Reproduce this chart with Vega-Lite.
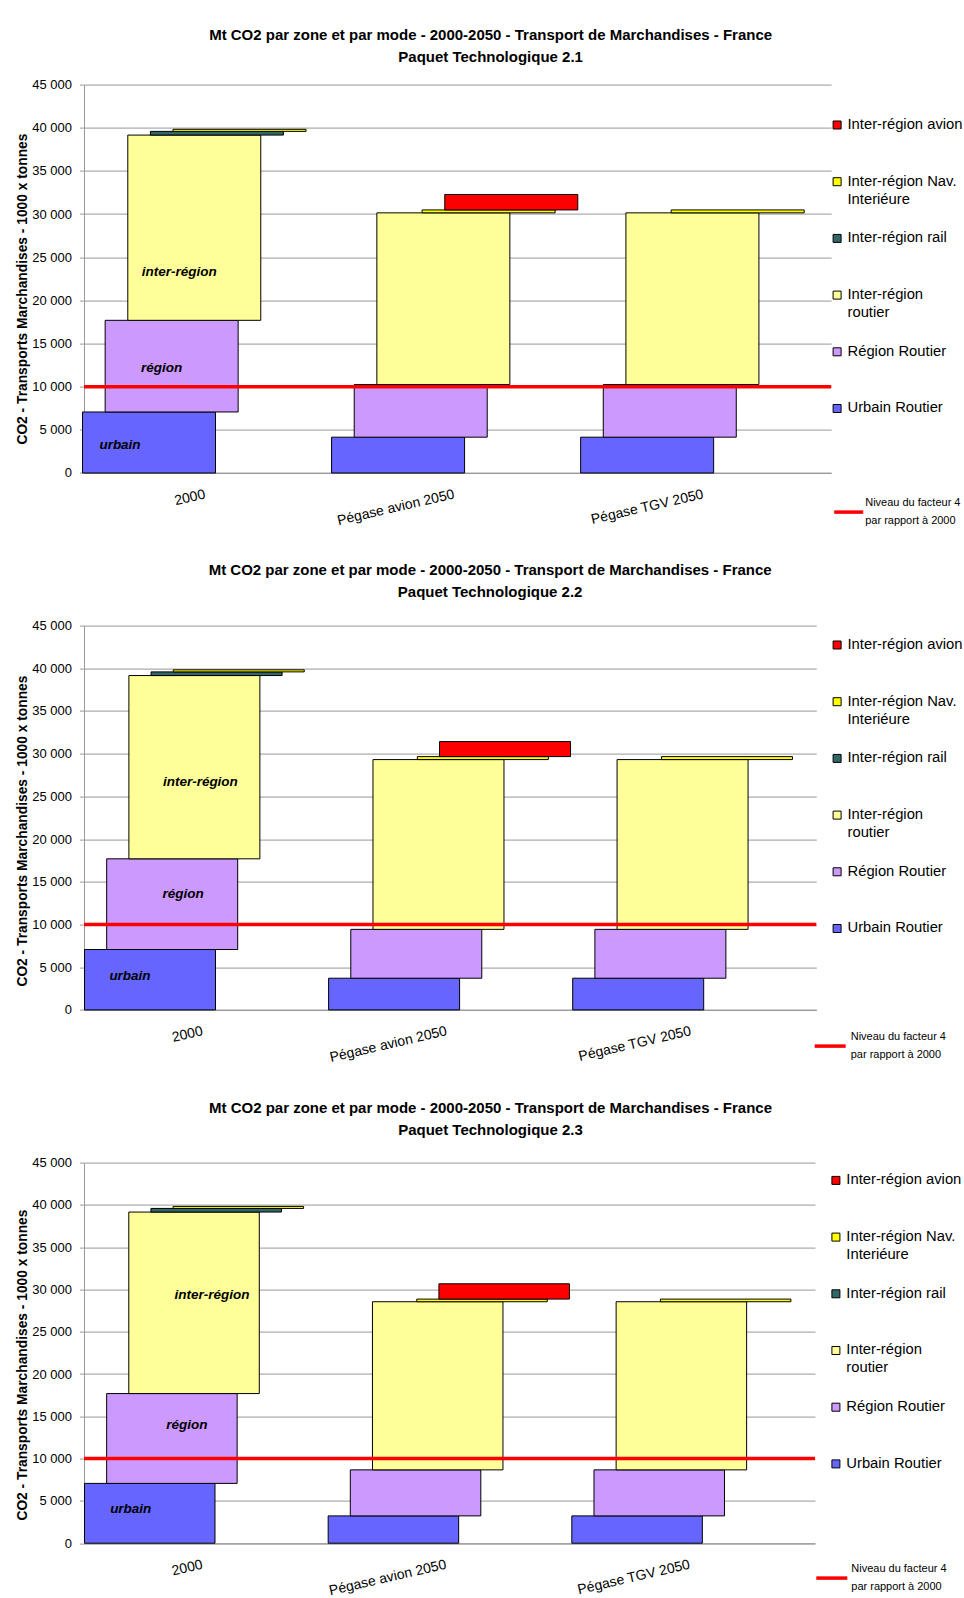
{
  "$schema": "https://vega.github.io/schema/vega-lite/v6.json",
  "background": "white",
  "padding": {"left": 15, "top": 27.6, "right": 0, "bottom": 0},
  "spacing": 152,
  "bounds": "flush",
  "datasets": {
    "barres": [
      {"panneau": "2.1", "scenario": "2000", "serie": "Urbain Routier", "ordre": 1, "valeur": 7070},
      {"panneau": "2.1", "scenario": "2000", "serie": "Région Routier", "ordre": 2, "valeur": 10620},
      {"panneau": "2.1", "scenario": "2000", "serie": "Inter-région routier", "ordre": 3, "valeur": 21460},
      {"panneau": "2.1", "scenario": "2000", "serie": "Inter-région rail", "ordre": 4, "valeur": 430},
      {"panneau": "2.1", "scenario": "2000", "serie": "Inter-région Nav. Interiéure", "ordre": 5, "valeur": 240},
      {"panneau": "2.1", "scenario": "Pégase avion 2050", "serie": "Urbain Routier", "ordre": 1, "valeur": 4150},
      {"panneau": "2.1", "scenario": "Pégase avion 2050", "serie": "Région Routier", "ordre": 2, "valeur": 6100},
      {"panneau": "2.1", "scenario": "Pégase avion 2050", "serie": "Inter-région routier", "ordre": 3, "valeur": 19890},
      {"panneau": "2.1", "scenario": "Pégase avion 2050", "serie": "Inter-région Nav. Interiéure", "ordre": 5, "valeur": 340},
      {"panneau": "2.1", "scenario": "Pégase avion 2050", "serie": "Inter-région avion", "ordre": 6, "valeur": 1790},
      {"panneau": "2.1", "scenario": "Pégase TGV 2050", "serie": "Urbain Routier", "ordre": 1, "valeur": 4150},
      {"panneau": "2.1", "scenario": "Pégase TGV 2050", "serie": "Région Routier", "ordre": 2, "valeur": 6100},
      {"panneau": "2.1", "scenario": "Pégase TGV 2050", "serie": "Inter-région routier", "ordre": 3, "valeur": 19890},
      {"panneau": "2.1", "scenario": "Pégase TGV 2050", "serie": "Inter-région Nav. Interiéure", "ordre": 5, "valeur": 340},
      {"panneau": "2.2", "scenario": "2000", "serie": "Urbain Routier", "ordre": 1, "valeur": 7070},
      {"panneau": "2.2", "scenario": "2000", "serie": "Région Routier", "ordre": 2, "valeur": 10620},
      {"panneau": "2.2", "scenario": "2000", "serie": "Inter-région routier", "ordre": 3, "valeur": 21460},
      {"panneau": "2.2", "scenario": "2000", "serie": "Inter-région rail", "ordre": 4, "valeur": 430},
      {"panneau": "2.2", "scenario": "2000", "serie": "Inter-région Nav. Interiéure", "ordre": 5, "valeur": 240},
      {"panneau": "2.2", "scenario": "Pégase avion 2050", "serie": "Urbain Routier", "ordre": 1, "valeur": 3710},
      {"panneau": "2.2", "scenario": "Pégase avion 2050", "serie": "Région Routier", "ordre": 2, "valeur": 5720},
      {"panneau": "2.2", "scenario": "Pégase avion 2050", "serie": "Inter-région routier", "ordre": 3, "valeur": 19880},
      {"panneau": "2.2", "scenario": "Pégase avion 2050", "serie": "Inter-région Nav. Interiéure", "ordre": 5, "valeur": 350},
      {"panneau": "2.2", "scenario": "Pégase avion 2050", "serie": "Inter-région avion", "ordre": 6, "valeur": 1760},
      {"panneau": "2.2", "scenario": "Pégase TGV 2050", "serie": "Urbain Routier", "ordre": 1, "valeur": 3710},
      {"panneau": "2.2", "scenario": "Pégase TGV 2050", "serie": "Région Routier", "ordre": 2, "valeur": 5720},
      {"panneau": "2.2", "scenario": "Pégase TGV 2050", "serie": "Inter-région routier", "ordre": 3, "valeur": 19880},
      {"panneau": "2.2", "scenario": "Pégase TGV 2050", "serie": "Inter-région Nav. Interiéure", "ordre": 5, "valeur": 350},
      {"panneau": "2.3", "scenario": "2000", "serie": "Urbain Routier", "ordre": 1, "valeur": 7070},
      {"panneau": "2.3", "scenario": "2000", "serie": "Région Routier", "ordre": 2, "valeur": 10620},
      {"panneau": "2.3", "scenario": "2000", "serie": "Inter-région routier", "ordre": 3, "valeur": 21460},
      {"panneau": "2.3", "scenario": "2000", "serie": "Inter-région rail", "ordre": 4, "valeur": 430},
      {"panneau": "2.3", "scenario": "2000", "serie": "Inter-région Nav. Interiéure", "ordre": 5, "valeur": 240},
      {"panneau": "2.3", "scenario": "Pégase avion 2050", "serie": "Urbain Routier", "ordre": 1, "valeur": 3230},
      {"panneau": "2.3", "scenario": "Pégase avion 2050", "serie": "Région Routier", "ordre": 2, "valeur": 5440},
      {"panneau": "2.3", "scenario": "Pégase avion 2050", "serie": "Inter-région routier", "ordre": 3, "valeur": 19880},
      {"panneau": "2.3", "scenario": "Pégase avion 2050", "serie": "Inter-région Nav. Interiéure", "ordre": 5, "valeur": 310},
      {"panneau": "2.3", "scenario": "Pégase avion 2050", "serie": "Inter-région avion", "ordre": 6, "valeur": 1810},
      {"panneau": "2.3", "scenario": "Pégase TGV 2050", "serie": "Urbain Routier", "ordre": 1, "valeur": 3230},
      {"panneau": "2.3", "scenario": "Pégase TGV 2050", "serie": "Région Routier", "ordre": 2, "valeur": 5440},
      {"panneau": "2.3", "scenario": "Pégase TGV 2050", "serie": "Inter-région routier", "ordre": 3, "valeur": 19880},
      {"panneau": "2.3", "scenario": "Pégase TGV 2050", "serie": "Inter-région Nav. Interiéure", "ordre": 5, "valeur": 310}
    ],
    "annotations": [
      {"panneau": "2.1", "scenario": "2000", "serie": "Inter-région routier", "texte": "inter-région", "niveau": 23300},
      {"panneau": "2.1", "scenario": "2000", "serie": "Région Routier", "texte": "région", "niveau": 12200},
      {"panneau": "2.1", "scenario": "2000", "serie": "Urbain Routier", "texte": "urbain", "niveau": 3300},
      {"panneau": "2.2", "scenario": "2000", "serie": "Inter-région routier", "texte": "inter-région", "niveau": 26700},
      {"panneau": "2.2", "scenario": "2000", "serie": "Région Routier", "texte": "région", "niveau": 13550},
      {"panneau": "2.2", "scenario": "2000", "serie": "Urbain Routier", "texte": "urbain", "niveau": 4000},
      {"panneau": "2.3", "scenario": "2000", "serie": "Inter-région routier", "texte": "inter-région", "niveau": 29400},
      {"panneau": "2.3", "scenario": "2000", "serie": "Région Routier", "texte": "région", "niveau": 13950},
      {"panneau": "2.3", "scenario": "2000", "serie": "Urbain Routier", "texte": "urbain", "niveau": 4000}
    ],
    "seuil": [
      {"libelle": "Niveau du facteur 4 par rapport à 2000", "valeur": 10000}
    ]
  },
  "vconcat": [
    {
      "width": 747.2,
      "height": 388.4,
      "title": {"text": ["Mt CO2 par zone et par mode - 2000-2050 - Transport de Marchandises - France", "Paquet Technologique 2.1"], "dx": 33, "offset": 14},
      "layer": [
        {
          "data": {"name": "barres"},
          "transform": [
            {"filter": "datum.panneau === '2.1'"},
            {"stack": "valeur", "groupby": ["scenario"], "sort": [{"field": "ordre", "order": "ascending"}], "as": ["bas", "haut"]}
          ],
          "mark": {"type": "bar", "width": 133, "stroke": "#000000", "strokeWidth": 1},
          "encoding": {
            "x": {"field": "scenario", "type": "nominal", "sort": ["2000", "Pégase avion 2050", "Pégase TGV 2050"], "scale": {"paddingInner": 0, "paddingOuter": 0},
              "axis": {"title": null, "labelAngle": -13, "labelFontSize": 14, "labelPadding": 14, "labelOffset": -5, "ticks": false, "domainColor": "#999999", "grid": false}},
            "xOffset": {"field": "serie", "type": "nominal", "sort": ["Urbain Routier", "Région Routier", "Inter-région routier", "Inter-région rail", "Inter-région Nav. Interiéure", "Inter-région avion"],
              "scale": {"range": [53.68, 189.52], "paddingInner": 0, "paddingOuter": 0}},
            "y": {"field": "bas", "type": "quantitative", "scale": {"domain": [0, 45000], "nice": false},
              "axis": {"values": [0, 5000, 10000, 15000, 20000, 25000, 30000, 35000, 40000, 45000], "format": ",d", "grid": true, "gridColor": "#999999", "domainColor": "#999999", "tickColor": "#999999", "tickSize": 4.5, "labelFontSize": 13, "labelPadding": 8, "title": "CO2 - Transports Marchandises - 1000 x tonnes", "titleFontSize": 13.8, "titleFontWeight": "bold", "titlePadding": 2, "titleY": 204}},
            "y2": {"field": "haut"},
            "fill": {"field": "serie", "type": "nominal",
              "scale": {"domain": ["Inter-région avion", "Inter-région Nav. Interiéure", "Inter-région rail", "Inter-région routier", "Région Routier", "Urbain Routier"], "range": ["#FF0000", "#FFFF00", "#336666", "#FFFF99", "#CC99FF", "#6666FF"]},
              "legend": {"orient": "none", "legendX": 745.7, "legendY": 33, "title": null, "symbolType": "square", "symbolSize": 64, "symbolStrokeColor": "#000000", "symbolStrokeWidth": 1, "labelFontSize": 14.8, "labelOffset": 3, "rowPadding": 22.7, "labelLimit": 300, "labelBaseline": "middle",
                "labelExpr": "datum.label === 'Inter-région Nav. Interiéure' ? ['Inter-région Nav.', 'Interiéure'] : datum.label === 'Inter-région routier' ? ['Inter-région', 'routier'] : [datum.label, '']"}}
          }
        },
        {
          "data": {"name": "annotations"},
          "transform": [{"filter": "datum.panneau === '2.1' && datum.texte === 'inter-région'"}],
          "mark": {"type": "text", "fontWeight": "bold", "fontStyle": "italic", "fontSize": 13.5, "dx": -15},
          "encoding": {
            "x": {"field": "scenario", "type": "nominal", "sort": ["2000", "Pégase avion 2050", "Pégase TGV 2050"]},
            "xOffset": {"field": "serie", "type": "nominal", "sort": ["Urbain Routier", "Région Routier", "Inter-région routier", "Inter-région rail", "Inter-région Nav. Interiéure", "Inter-région avion"]},
            "y": {"field": "niveau", "type": "quantitative"},
            "text": {"field": "texte"}
          }
        },
        {
          "data": {"name": "annotations"},
          "transform": [{"filter": "datum.panneau === '2.1' && datum.texte === 'région'"}],
          "mark": {"type": "text", "fontWeight": "bold", "fontStyle": "italic", "fontSize": 13.5, "dx": -10},
          "encoding": {
            "x": {"field": "scenario", "type": "nominal", "sort": ["2000", "Pégase avion 2050", "Pégase TGV 2050"]},
            "xOffset": {"field": "serie", "type": "nominal", "sort": ["Urbain Routier", "Région Routier", "Inter-région routier", "Inter-région rail", "Inter-région Nav. Interiéure", "Inter-région avion"]},
            "y": {"field": "niveau", "type": "quantitative"},
            "text": {"field": "texte"}
          }
        },
        {
          "data": {"name": "annotations"},
          "transform": [{"filter": "datum.panneau === '2.1' && datum.texte === 'urbain'"}],
          "mark": {"type": "text", "fontWeight": "bold", "fontStyle": "italic", "fontSize": 13.5, "dx": -29},
          "encoding": {
            "x": {"field": "scenario", "type": "nominal", "sort": ["2000", "Pégase avion 2050", "Pégase TGV 2050"]},
            "xOffset": {"field": "serie", "type": "nominal", "sort": ["Urbain Routier", "Région Routier", "Inter-région routier", "Inter-région rail", "Inter-région Nav. Interiéure", "Inter-région avion"]},
            "y": {"field": "niveau", "type": "quantitative"},
            "text": {"field": "texte"}
          }
        },
        {
          "data": {"name": "seuil"},
          "mark": {"type": "rule", "strokeWidth": 3.5},
          "encoding": {
            "y": {"field": "valeur", "type": "quantitative"},
            "stroke": {"field": "libelle", "type": "nominal", "scale": {"range": ["#FF0000"]},
              "legend": {"orient": "none", "legendX": 748.2, "legendY": 411, "title": null, "symbolType": "stroke", "symbolSize": 841, "symbolStrokeWidth": 3.5, "labelFontSize": 11, "labelOffset": 0, "labelBaseline": "line-bottom", "labelLimit": 300,
                "labelExpr": "['Niveau du facteur 4', 'par rapport à 2000']"}}
          }
        }
      ]
    },
    {
      "width": 732.3,
      "height": 384.3,
      "title": {"text": ["Mt CO2 par zone et par mode - 2000-2050 - Transport de Marchandises - France", "Paquet Technologique 2.2"], "dx": 40, "offset": 20},
      "layer": [
        {
          "data": {"name": "barres"},
          "transform": [
            {"filter": "datum.panneau === '2.2'"},
            {"stack": "valeur", "groupby": ["scenario"], "sort": [{"field": "ordre", "order": "ascending"}], "as": ["bas", "haut"]}
          ],
          "mark": {"type": "bar", "width": 131, "stroke": "#000000", "strokeWidth": 1},
          "encoding": {
            "x": {"field": "scenario", "type": "nominal", "sort": ["2000", "Pégase avion 2050", "Pégase TGV 2050"], "scale": {"paddingInner": 0, "paddingOuter": 0},
              "axis": {"title": null, "labelAngle": -13, "labelFontSize": 14, "labelPadding": 14, "labelOffset": -5, "ticks": false, "domainColor": "#999999", "grid": false}},
            "xOffset": {"field": "serie", "type": "nominal", "sort": ["Urbain Routier", "Région Routier", "Inter-région routier", "Inter-région rail", "Inter-région Nav. Interiéure", "Inter-région avion"],
              "scale": {"range": [54.9, 188.04], "paddingInner": 0, "paddingOuter": 0}},
            "y": {"field": "bas", "type": "quantitative", "scale": {"domain": [0, 45000], "nice": false},
              "axis": {"values": [0, 5000, 10000, 15000, 20000, 25000, 30000, 35000, 40000, 45000], "format": ",d", "grid": true, "gridColor": "#999999", "domainColor": "#999999", "tickColor": "#999999", "tickSize": 4.5, "labelFontSize": 13, "labelPadding": 8, "title": "CO2 - Transports Marchandises - 1000 x tonnes", "titleFontSize": 13.8, "titleFontWeight": "bold", "titlePadding": 2, "titleY": 205}},
            "y2": {"field": "haut"},
            "fill": {"field": "serie", "type": "nominal",
              "scale": {"domain": ["Inter-région avion", "Inter-région Nav. Interiéure", "Inter-région rail", "Inter-région routier", "Région Routier", "Urbain Routier"], "range": ["#FF0000", "#FFFF00", "#336666", "#FFFF99", "#CC99FF", "#6666FF"]},
              "legend": {"orient": "none", "legendX": 745.7, "legendY": 12, "title": null, "symbolType": "square", "symbolSize": 64, "symbolStrokeColor": "#000000", "symbolStrokeWidth": 1, "labelFontSize": 14.8, "labelOffset": 3, "rowPadding": 22.7, "labelLimit": 300, "labelBaseline": "middle",
                "labelExpr": "datum.label === 'Inter-région Nav. Interiéure' ? ['Inter-région Nav.', 'Interiéure'] : datum.label === 'Inter-région routier' ? ['Inter-région', 'routier'] : [datum.label, '']"}}
          }
        },
        {
          "data": {"name": "annotations"},
          "transform": [{"filter": "datum.panneau === '2.2' && datum.texte === 'inter-région'"}],
          "mark": {"type": "text", "fontWeight": "bold", "fontStyle": "italic", "fontSize": 13.5, "dx": 6},
          "encoding": {
            "x": {"field": "scenario", "type": "nominal", "sort": ["2000", "Pégase avion 2050", "Pégase TGV 2050"]},
            "xOffset": {"field": "serie", "type": "nominal", "sort": ["Urbain Routier", "Région Routier", "Inter-région routier", "Inter-région rail", "Inter-région Nav. Interiéure", "Inter-région avion"]},
            "y": {"field": "niveau", "type": "quantitative"},
            "text": {"field": "texte"}
          }
        },
        {
          "data": {"name": "annotations"},
          "transform": [{"filter": "datum.panneau === '2.2' && datum.texte === 'région'"}],
          "mark": {"type": "text", "fontWeight": "bold", "fontStyle": "italic", "fontSize": 13.5, "dx": 11},
          "encoding": {
            "x": {"field": "scenario", "type": "nominal", "sort": ["2000", "Pégase avion 2050", "Pégase TGV 2050"]},
            "xOffset": {"field": "serie", "type": "nominal", "sort": ["Urbain Routier", "Région Routier", "Inter-région routier", "Inter-région rail", "Inter-région Nav. Interiéure", "Inter-région avion"]},
            "y": {"field": "niveau", "type": "quantitative"},
            "text": {"field": "texte"}
          }
        },
        {
          "data": {"name": "annotations"},
          "transform": [{"filter": "datum.panneau === '2.2' && datum.texte === 'urbain'"}],
          "mark": {"type": "text", "fontWeight": "bold", "fontStyle": "italic", "fontSize": 13.5, "dx": -20},
          "encoding": {
            "x": {"field": "scenario", "type": "nominal", "sort": ["2000", "Pégase avion 2050", "Pégase TGV 2050"]},
            "xOffset": {"field": "serie", "type": "nominal", "sort": ["Urbain Routier", "Région Routier", "Inter-région routier", "Inter-région rail", "Inter-région Nav. Interiéure", "Inter-région avion"]},
            "y": {"field": "niveau", "type": "quantitative"},
            "text": {"field": "texte"}
          }
        },
        {
          "data": {"name": "seuil"},
          "mark": {"type": "rule", "strokeWidth": 3.5},
          "encoding": {
            "y": {"field": "valeur", "type": "quantitative"},
            "stroke": {"field": "libelle", "type": "nominal", "scale": {"range": ["#FF0000"]},
              "legend": {"orient": "none", "legendX": 728.7, "legendY": 403, "title": null, "symbolType": "stroke", "symbolSize": 961, "symbolStrokeWidth": 3.5, "labelFontSize": 11, "labelOffset": 3, "labelBaseline": "line-bottom", "labelLimit": 300,
                "labelExpr": "['Niveau du facteur 4', 'par rapport à 2000']"}}
          }
        }
      ]
    },
    {
      "width": 731,
      "height": 380.6,
      "title": {"text": ["Mt CO2 par zone et par mode - 2000-2050 - Transport de Marchandises - France", "Paquet Technologique 2.3"], "dx": 41, "offset": 19},
      "layer": [
        {
          "data": {"name": "barres"},
          "transform": [
            {"filter": "datum.panneau === '2.3'"},
            {"stack": "valeur", "groupby": ["scenario"], "sort": [{"field": "ordre", "order": "ascending"}], "as": ["bas", "haut"]}
          ],
          "mark": {"type": "bar", "width": 130.5, "stroke": "#000000", "strokeWidth": 1},
          "encoding": {
            "x": {"field": "scenario", "type": "nominal", "sort": ["2000", "Pégase avion 2050", "Pégase TGV 2050"], "scale": {"paddingInner": 0, "paddingOuter": 0},
              "axis": {"title": null, "labelAngle": -13, "labelFontSize": 14, "labelPadding": 14, "labelOffset": -5, "ticks": false, "domainColor": "#999999", "grid": false}},
            "xOffset": {"field": "serie", "type": "nominal", "sort": ["Urbain Routier", "Région Routier", "Inter-région routier", "Inter-région rail", "Inter-région Nav. Interiéure", "Inter-région avion"],
              "scale": {"range": [54.67, 187.57], "paddingInner": 0, "paddingOuter": 0}},
            "y": {"field": "bas", "type": "quantitative", "scale": {"domain": [0, 45000], "nice": false},
              "axis": {"values": [0, 5000, 10000, 15000, 20000, 25000, 30000, 35000, 40000, 45000], "format": ",d", "grid": true, "gridColor": "#999999", "domainColor": "#999999", "tickColor": "#999999", "tickSize": 4.5, "labelFontSize": 13, "labelPadding": 8, "title": "CO2 - Transports Marchandises - 1000 x tonnes", "titleFontSize": 13.8, "titleFontWeight": "bold", "titlePadding": 2, "titleY": 202}},
            "y2": {"field": "haut"},
            "fill": {"field": "serie", "type": "nominal",
              "scale": {"domain": ["Inter-région avion", "Inter-région Nav. Interiéure", "Inter-région rail", "Inter-région routier", "Région Routier", "Urbain Routier"], "range": ["#FF0000", "#FFFF00", "#336666", "#FFFF99", "#CC99FF", "#6666FF"]},
              "legend": {"orient": "none", "legendX": 744.5, "legendY": 10.4, "title": null, "symbolType": "square", "symbolSize": 64, "symbolStrokeColor": "#000000", "symbolStrokeWidth": 1, "labelFontSize": 14.8, "labelOffset": 3, "rowPadding": 22.7, "labelLimit": 300, "labelBaseline": "middle",
                "labelExpr": "datum.label === 'Inter-région Nav. Interiéure' ? ['Inter-région Nav.', 'Interiéure'] : datum.label === 'Inter-région routier' ? ['Inter-région', 'routier'] : [datum.label, '']"}}
          }
        },
        {
          "data": {"name": "annotations"},
          "transform": [{"filter": "datum.panneau === '2.3' && datum.texte === 'inter-région'"}],
          "mark": {"type": "text", "fontWeight": "bold", "fontStyle": "italic", "fontSize": 13.5, "dx": 18},
          "encoding": {
            "x": {"field": "scenario", "type": "nominal", "sort": ["2000", "Pégase avion 2050", "Pégase TGV 2050"]},
            "xOffset": {"field": "serie", "type": "nominal", "sort": ["Urbain Routier", "Région Routier", "Inter-région routier", "Inter-région rail", "Inter-région Nav. Interiéure", "Inter-région avion"]},
            "y": {"field": "niveau", "type": "quantitative"},
            "text": {"field": "texte"}
          }
        },
        {
          "data": {"name": "annotations"},
          "transform": [{"filter": "datum.panneau === '2.3' && datum.texte === 'région'"}],
          "mark": {"type": "text", "fontWeight": "bold", "fontStyle": "italic", "fontSize": 13.5, "dx": 15},
          "encoding": {
            "x": {"field": "scenario", "type": "nominal", "sort": ["2000", "Pégase avion 2050", "Pégase TGV 2050"]},
            "xOffset": {"field": "serie", "type": "nominal", "sort": ["Urbain Routier", "Région Routier", "Inter-région routier", "Inter-région rail", "Inter-région Nav. Interiéure", "Inter-région avion"]},
            "y": {"field": "niveau", "type": "quantitative"},
            "text": {"field": "texte"}
          }
        },
        {
          "data": {"name": "annotations"},
          "transform": [{"filter": "datum.panneau === '2.3' && datum.texte === 'urbain'"}],
          "mark": {"type": "text", "fontWeight": "bold", "fontStyle": "italic", "fontSize": 13.5, "dx": -19},
          "encoding": {
            "x": {"field": "scenario", "type": "nominal", "sort": ["2000", "Pégase avion 2050", "Pégase TGV 2050"]},
            "xOffset": {"field": "serie", "type": "nominal", "sort": ["Urbain Routier", "Région Routier", "Inter-région routier", "Inter-région rail", "Inter-région Nav. Interiéure", "Inter-région avion"]},
            "y": {"field": "niveau", "type": "quantitative"},
            "text": {"field": "texte"}
          }
        },
        {
          "data": {"name": "seuil"},
          "mark": {"type": "rule", "strokeWidth": 3.5},
          "encoding": {
            "y": {"field": "valeur", "type": "quantitative"},
            "stroke": {"field": "libelle", "type": "nominal", "scale": {"range": ["#FF0000"]},
              "legend": {"orient": "none", "legendX": 730.3, "legendY": 398, "title": null, "symbolType": "stroke", "symbolSize": 961, "symbolStrokeWidth": 3.5, "labelFontSize": 11, "labelOffset": 2, "labelBaseline": "line-bottom", "labelLimit": 300,
                "labelExpr": "['Niveau du facteur 4', 'par rapport à 2000']"}}
          }
        }
      ]
    }
  ],
  "resolve": {
    "scale": {"fill": "independent", "stroke": "independent", "xOffset": "independent"},
    "legend": {"fill": "independent", "stroke": "independent"}
  },
  "config": {
    "locale": {"number": {"decimal": ",", "thousands": " ", "grouping": [3], "currency": ["", " €"]}},
    "font": "Liberation Sans",
    "view": {"stroke": null},
    "axis": {"labelFont": "Liberation Sans", "titleFont": "Liberation Sans", "labelColor": "#000000", "titleColor": "#000000"},
    "legend": {"padding": 0, "labelFont": "Liberation Sans", "labelColor": "#000000"},
    "title": {"font": "Liberation Sans", "fontSize": 15, "fontWeight": "bold", "color": "#000000", "anchor": "middle", "lineHeight": 22},
    "text": {"font": "Liberation Sans", "color": "#000000"},
    "style": {"guide-label": {"lineHeight": 18}}
  }
}
